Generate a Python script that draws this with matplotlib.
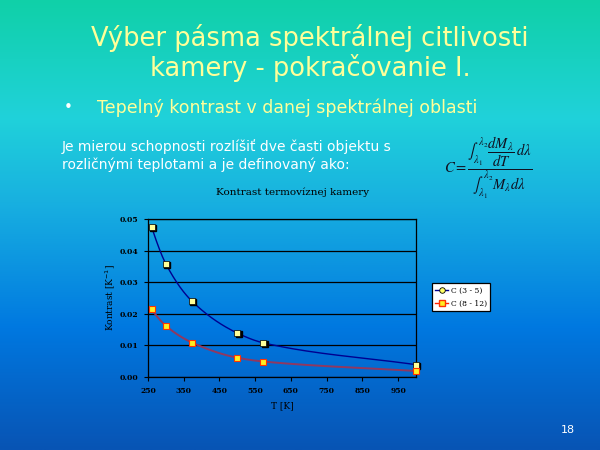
import numpy as np
import matplotlib
matplotlib.use("Agg")
import matplotlib.pyplot as plt
import matplotlib.transforms as mtransforms
from matplotlib.colors import LinearSegmentedColormap
from matplotlib.lines import Line2D

# ---- data ----
temps_a = [260, 300, 373, 500, 573, 1000]
contrast_a = [0.0475, 0.0358, 0.0240, 0.0139, 0.0108, 0.0039]
temps_b = [260, 300, 373, 500, 573, 1000]
contrast_b = [0.0214, 0.0162, 0.0109, 0.0061, 0.0049, 0.0019]
series_labels = ["C (3 - 5)", "C (8 - 12)"]
x_ticks = [250, 350, 450, 550, 650, 750, 850, 950]
y_ticks = [0.00, 0.01, 0.02, 0.03, 0.04, 0.05]

title_lines = ["Výber pásma spektrálnej citlivosti", "kamery - pokračovanie I."]
bullet_text = "Tepelný kontrast v danej spektrálnej oblasti"
body_lines = ["Je mierou schopnosti rozlíšiť dve časti objektu s",
              "rozličnými teplotami a je definovaný ako:"]
chart_title = "Kontrast termovíznej kamery"
page_no = "18"


def smooth(xs, ys, n=40):
    """Monotone cubic (Fritsch-Carlson) drawing of a smoothed line through the points."""
    x = np.asarray(xs, float); y = np.asarray(ys, float)
    h = np.diff(x); d = np.diff(y) / h
    m = np.zeros_like(y)
    m[0] = d[0]; m[-1] = d[-1]
    for k in range(1, len(x) - 1):
        if d[k - 1] * d[k] <= 0:
            m[k] = 0
        else:
            w1 = 2 * h[k] + h[k - 1]; w2 = h[k] + 2 * h[k - 1]
            m[k] = (w1 + w2) / (w1 / d[k - 1] + w2 / d[k])
    m[0] = ((2 * h[0] + h[1]) * d[0] - h[0] * d[1]) / (h[0] + h[1])
    if np.sign(m[0]) != np.sign(d[0]):
        m[0] = 0
    X, Y = [], []
    for k in range(len(x) - 1):
        t = np.linspace(0, 1, n)
        h00 = 2*t**3 - 3*t**2 + 1; h10 = t**3 - 2*t**2 + t
        h01 = -2*t**3 + 3*t**2; h11 = t**3 - t**2
        X.append(x[k] + t * h[k])
        Y.append(h00*y[k] + h10*h[k]*m[k] + h01*y[k+1] + h11*h[k]*m[k+1])
    return np.concatenate(X), np.concatenate(Y)


fig = plt.figure(figsize=(6, 4.5), dpi=100)

# background gradient
bg = fig.add_axes([0, 0, 1, 1], zorder=-10)
cmap = LinearSegmentedColormap.from_list("bg", [
    (0.0, (16/255, 208/255, 168/255)),
    (0.26, (32/255, 210/255, 218/255)),
    (0.45, (24/255, 176/255, 224/255)),
    (0.73, (0/255, 120/255, 224/255)),
    (1.0, (8/255, 84/255, 180/255)),
])
grad = np.linspace(0, 1, 256)[:, None]
bg.imshow(grad, aspect="auto", cmap=cmap, extent=[0, 1, 0, 1], origin="upper")
bg.set_axis_off()

yellow = "#FFFF99"
fig.text(0.517, 1 - 38/450, title_lines[0], color=yellow, fontsize=18.5,
         ha="center", va="center", family="DejaVu Sans")
fig.text(0.517, 1 - 68/450, title_lines[1], color=yellow, fontsize=18.5,
         ha="center", va="center", family="DejaVu Sans")
fig.text(68/600, 1 - 108/450, "•", color="white", fontsize=11, ha="center", va="center")
fig.text(97/600, 1 - 108/450, bullet_text, color=yellow, fontsize=12.5,
         ha="left", va="center", family="DejaVu Sans")
fig.text(62/600, 1 - 147/450, body_lines[0], color="white", fontsize=10,
         ha="left", va="center", family="DejaVu Sans")
fig.text(62/600, 1 - 165/450, body_lines[1], color="white", fontsize=10,
         ha="left", va="center", family="DejaVu Sans")
fig.text(488/600, 1 - 168/450,
         r"$C=\dfrac{\int_{\lambda_1}^{\lambda_2}\dfrac{dM_\lambda}{dT}\,d\lambda}{\int_{\lambda_1}^{\lambda_2}M_\lambda d\lambda}$",
         color="#101020", fontsize=10.5, ha="center", va="center",
         math_fontfamily="stix")
fig.text(568/600, 1 - 430/450, page_no, color="white", fontsize=8, ha="center", va="center")

# chart
ax = fig.add_axes([148/600, 1 - 377/450, 268/600, 158/450])
ax.patch.set_alpha(0)
ax.set_xlim(250, 1000)
ax.set_ylim(0, 0.05)
ax.set_xticks(x_ticks)
ax.set_yticks(y_ticks)
ax.set_xticklabels([str(v) for v in x_ticks], family="DejaVu Serif", fontsize=5.5, fontweight="bold")
ax.set_yticklabels([f"{v:.2f}" for v in y_ticks], family="DejaVu Serif", fontsize=5.5, fontweight="bold")
ax.tick_params(length=3, width=0.8, colors="black", pad=4)
ax.yaxis.grid(True, color="black", lw=0.9)
ax.set_axisbelow(True)
for sp in ax.spines.values():
    sp.set_color("black"); sp.set_linewidth(0.9)

blue_line = "#000090"
red_line = "#903860"
sx, sy = smooth(temps_a, contrast_a)
ax.plot(sx, sy, color=blue_line, lw=1.0, zorder=3)
sx, sy = smooth(temps_b, contrast_b)
ax.plot(sx, sy, color=red_line, lw=1.4, zorder=3)

# marker shadow for series A
shadow = ax.transData + mtransforms.ScaledTranslation(1.2/100, -1.2/100, fig.dpi_scale_trans)
ax.plot(temps_a, contrast_a, ls="none", marker="s", ms=4, mfc="black", mec="black",
        zorder=4, transform=shadow, clip_on=False)
ax.plot(temps_a, contrast_a, ls="none", marker="s", ms=4, mfc=yellow, mec="black",
        mew=0.5, zorder=5, clip_on=False)
ax.plot(temps_b, contrast_b, ls="none", marker="s", ms=4.8, mfc="#FFEE22", mec="#FF3300",
        mew=0.8, zorder=5, clip_on=False)

ax.set_xlabel("T [K]", family="DejaVu Serif", fontsize=6.5, labelpad=5)
ax.set_ylabel("Kontrast [K$^{-1}$]", family="DejaVu Serif", fontsize=6.5, labelpad=2)
fig.text(293/600, 1 - 192/450, chart_title, family="DejaVu Serif", fontsize=7.5,
         ha="center", va="center", color="black")

handles = [
    Line2D([], [], color=blue_line, lw=1.0, marker="o", ms=4, mfc="#FFFF66", mec="black", mew=0.6),
    Line2D([], [], color="#FF2200", lw=1.0, marker="s", ms=5, mfc="#FFEE22", mec="#FF3300", mew=1.0),
]
leg = fig.legend(handles, series_labels, loc="upper left",
                 bbox_to_anchor=(432/600, 1 - 283/450), frameon=True, fancybox=False,
                 prop={"family": "DejaVu Serif", "size": 5.5}, handlelength=1.6,
                 handletextpad=0.4, borderpad=0.45, labelspacing=0.7, borderaxespad=0)
leg.get_frame().set_edgecolor("black")
leg.get_frame().set_linewidth(0.9)
leg.get_frame().set_facecolor("white")
leg.get_frame().set_alpha(1)

fig.savefig("out.png", dpi=100)
